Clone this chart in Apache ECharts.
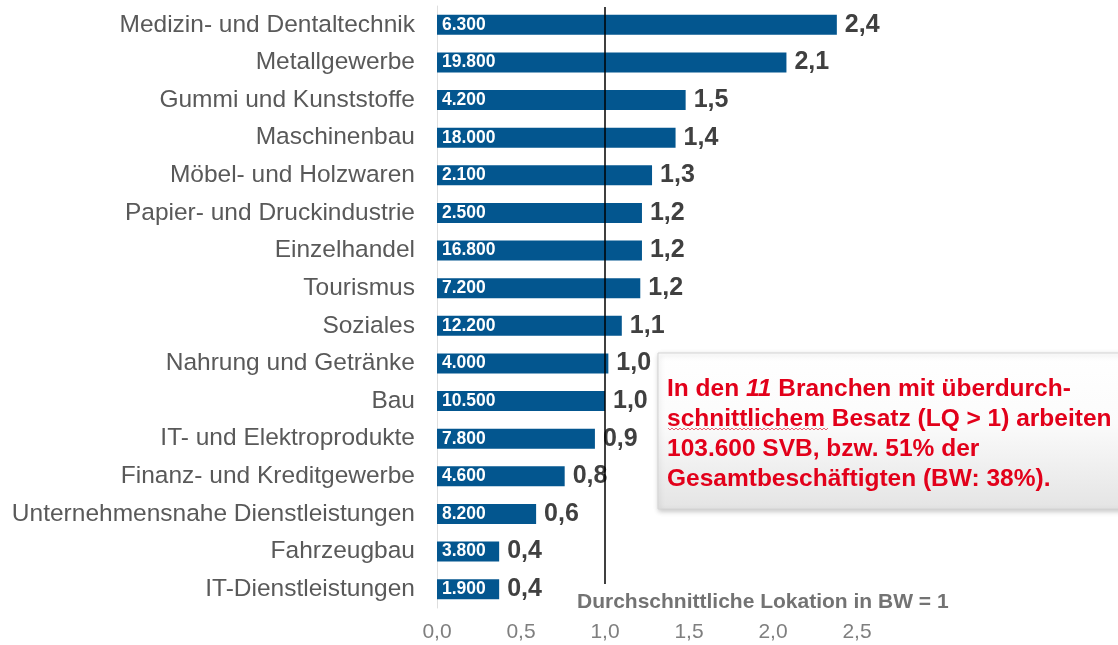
<!DOCTYPE html>
<html lang="de">
<head>
<meta charset="utf-8">
<title>Lokationsquotienten nach Branchen</title>
<script src="https://cdn.jsdelivr.net/npm/echarts@6/dist/echarts.min.js"></script>
<style>
  html, body { margin: 0; padding: 0; background: #ffffff; }
  #chart { width: 1118px; height: 645px; }
</style>
</head>
<body>
<div id="chart"></div>
<script>
// Branchen (von oben nach unten)
const categories = [
  'Medizin- und Dentaltechnik',
  'Metallgewerbe',
  'Gummi und Kunststoffe',
  'Maschinenbau',
  'Möbel- und Holzwaren',
  'Papier- und Druckindustrie',
  'Einzelhandel',
  'Tourismus',
  'Soziales',
  'Nahrung und Getränke',
  'Bau',
  'IT- und Elektroprodukte',
  'Finanz- und Kreditgewerbe',
  'Unternehmensnahe Dienstleistungen',
  'Fahrzeugbau',
  'IT-Dienstleistungen'
];

// Lokationsquotient (LQ) je Branche
const lqValues = [2.38, 2.08, 1.48, 1.42, 1.28, 1.22, 1.22, 1.21, 1.10, 1.02, 1.00, 0.94, 0.76, 0.59, 0.37, 0.37];

// Sozialversicherungspflichtig Beschäftigte (SVB) je Branche
const employees = [6300, 19800, 4200, 18000, 2100, 2500, 16800, 7200, 12200, 4000, 10500, 7800, 4600, 8200, 3800, 1900];

// Achsenbereich und Referenzwert
const axisMin = 0;
const axisMax = 2.5;
const axisStep = 0.5;
const bwAverage = 1;

const FONT = '"Liberation Sans", Arial, Helvetica, sans-serif';

const fmtDecimal = v => Number(v).toFixed(1).replace('.', ',');
const fmtThousands = n => String(n).replace(/\B(?=(\d{3})+(?!\d))/g, '.');

const chart = echarts.init(document.getElementById('chart'), null, { renderer: 'canvas' });

chart.setOption({
  animation: false,
  backgroundColor: '#ffffff',
  textStyle: { fontFamily: FONT },
  grid: { left: 437, right: 261, top: 6, bottom: 37 },
  xAxis: {
    type: 'value',
    min: axisMin,
    max: axisMax,
    interval: axisStep,
    axisLine: { show: false },
    axisTick: { show: false },
    splitLine: { show: false },
    axisLabel: {
      formatter: v => fmtDecimal(v),
      color: '#7f7f7f',
      fontSize: 21,
      fontFamily: FONT,
      margin: 14
    }
  },
  yAxis: {
    type: 'category',
    data: categories,
    inverse: true,
    axisTick: { show: false },
    axisLine: { show: true, lineStyle: { color: '#dedede', width: 1 } },
    axisLabel: {
      color: '#595959',
      fontSize: 24.5,
      fontFamily: FONT,
      margin: 22
    }
  },
  series: [
    {
      name: 'LQ',
      type: 'bar',
      data: lqValues,
      barWidth: 20,
      itemStyle: { color: '#03568f' },
      label: {
        show: true,
        position: 'right',
        distance: 8,
        formatter: p => fmtDecimal(p.value),
        fontSize: 25,
        fontWeight: 'bold',
        fontFamily: FONT,
        color: '#404040'
      }
    },
    {
      name: 'SVB',
      type: 'bar',
      data: lqValues,
      barWidth: 20,
      barGap: '-100%',
      silent: true,
      z: 3,
      itemStyle: { color: 'rgba(0,0,0,0)' },
      label: {
        show: true,
        position: 'insideLeft',
        distance: 5,
        formatter: p => fmtThousands(employees[p.dataIndex]),
        fontSize: 17.5,
        fontWeight: 'bold',
        fontFamily: FONT,
        color: '#ffffff'
      }
    }
  ]
});

// Referenzlinie bei LQ = 1 und Hinweisbox
const avgX = chart.convertToPixel({ xAxisIndex: 0 }, bwAverage);

// Rote Wellenlinie unter "schnittlichem"
const wave = [];
for (let x = 668, i = 0; x <= 829; x += 2, i++) {
  wave.push([x, 429 + (i % 2 === 0 ? -1 : 1)]);
}

chart.setOption({
  graphic: [
    {
      type: 'line',
      z: 10,
      shape: { x1: avgX, y1: 7, x2: avgX, y2: 584 },
      style: { stroke: '#000000', lineWidth: 1.5 }
    },
    {
      type: 'text',
      z: 10,
      x: 577,
      y: 602,
      style: {
        text: 'Durchschnittliche Lokation in BW = 1',
        font: 'bold 21px ' + FONT,
        fill: '#737373',
        verticalAlign: 'middle'
      }
    },
    {
      type: 'rect',
      z: 20,
      shape: { x: 658, y: 353, width: 470, height: 156 },
      style: {
        fill: new echarts.graphic.LinearGradient(0, 0, 0, 1, [
          { offset: 0, color: '#ffffff' },
          { offset: 0.45, color: '#fbfbfb' },
          { offset: 1, color: '#e4e4e4' }
        ]),
        stroke: '#d4d4d4',
        lineWidth: 1,
        shadowBlur: 5,
        shadowOffsetX: 1,
        shadowOffsetY: 2,
        shadowColor: 'rgba(0,0,0,0.22)'
      }
    },
    {
      type: 'text',
      z: 21,
      x: 667,
      y: 374,
      style: {
        text: '{b|In den }{i|11}{b| Branchen mit überdurch-}\n' +
              '{b|schnittlichem Besatz (LQ > 1) arbeiten}\n' +
              '{b|103.600 SVB, bzw. 51% der}\n' +
              '{b|Gesamtbeschäftigten (BW: 38%).}',
        fill: '#e2001a',
        lineHeight: 30,
        rich: {
          b: { fontFamily: FONT, fontSize: 24.5, fontWeight: 'bold', fill: '#e2001a', lineHeight: 30 },
          i: { fontFamily: FONT, fontSize: 24.5, fontWeight: 'bold', fontStyle: 'italic', fill: '#e2001a', lineHeight: 30 }
        }
      }
    },
    {
      type: 'polyline',
      z: 22,
      shape: { points: wave },
      style: { stroke: '#e2001a', lineWidth: 1, fill: null, opacity: 0.6 }
    }
  ]
});
</script>
</body>
</html>
